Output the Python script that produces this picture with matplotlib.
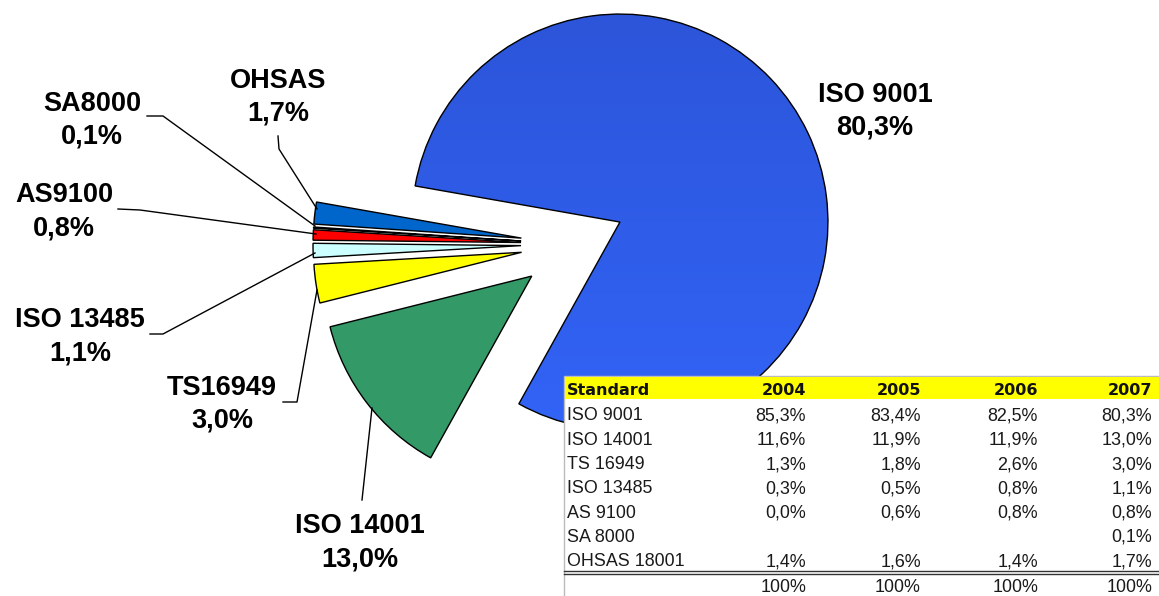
import matplotlib
matplotlib.use("Agg")
import matplotlib.pyplot as plt
import numpy as np
from matplotlib.colors import LinearSegmentedColormap

# ---------------- data ----------------
table_standards = ["ISO 9001", "ISO 14001", "TS 16949", "ISO 13485", "AS 9100", "SA 8000", "OHSAS 18001"]
years = ["2004", "2005", "2006", "2007"]
share_2004 = [85.3, 11.6, 1.3, 0.3, 0.0, None, 1.4]
share_2005 = [83.4, 11.9, 1.8, 0.5, 0.6, None, 1.6]
share_2006 = [82.5, 11.9, 2.6, 0.8, 0.8, None, 1.4]
share_2007 = [80.3, 13.0, 3.0, 1.1, 0.8, 0.1, 1.7]
totals = ["100%", "100%", "100%", "100%"]
pie_labels = ["ISO 9001", "ISO 14001", "TS16949", "ISO 13485", "AS9100", "SA8000", "OHSAS"]
pie_colors = ["#3366FF", "#339966", "#FFFF00", "#CCFFFF", "#FF0000", "#FFFFFF", "#0066CC"]

W, H = 1159, 596
fig = plt.figure(figsize=(W / 100, H / 100), dpi=100)
ax = fig.add_axes([0, 0, 1, 1])


def Y(y):
    return H - y


def fmt(v):
    return "" if v is None else f"{v:.1f}%".replace(".", ",")


def txt(x, yc, s, size, ha="center", weight="normal", family="Liberation Sans", color="black", z=10):
    # place text so that its capital letters are vertically centred on yc (image px)
    cap = 0.716 * size * 100 / 72
    ax.text(x, Y(yc + cap / 2), s, fontsize=size, ha=ha, va="baseline",
            fontweight=weight, family=family, color=color, zorder=z)


# ---------------- pie ----------------
R = 208
cx, cy = 573, 244.4
explode = [0.25 * R] * len(share_2007)  # matplotlib explode is in data units
wedges, _ = ax.pie(share_2007, colors=pie_colors, explode=explode,
                   startangle=170, counterclock=False, radius=R, center=(cx, Y(cy)),
                   wedgeprops=dict(edgecolor="black", linewidth=1.0), frame=False)

# gradient fill for the big slice
w0 = wedges[0]
w0.set_facecolor("none")
w0.set_zorder(3)
cmap = LinearSegmentedColormap.from_list("g", ["#3468FF", "#2B52D4"])
grad = np.linspace(0, 1, 256).reshape(-1, 1)
im = ax.imshow(grad, cmap=cmap, extent=[cx - R - 100, cx + R + 100, Y(cy) - R - 100, Y(cy) + R + 100],
               origin="lower", aspect="auto", zorder=2)
im.set_clip_path(w0)

ax.set_xlim(0, W)
ax.set_ylim(0, H)
ax.axis("off")

# ---------------- labels & leader lines ----------------
lab_size = 19.5
label_pos = {
    "ISO 9001": (875, 92, 125),
    "OHSAS": (278, 78, 111),
    "SA8000": (92, 101, 134),
    "AS9100": (64, 192, 226),
    "ISO 13485": (80, 317, 351),
    "TS16949": (222, 385, 418),
    "ISO 14001": (360, 523, 557),
}
for name, v in zip(pie_labels, share_2007):
    x, y1, y2 = label_pos[name]
    txt(x, y1, name, lab_size, weight="bold")
    txt(x, y2, fmt(v), lab_size, weight="bold")

leaders = [
    [(278, 136), (279, 149), (317, 209)],
    [(147, 116), (163, 116), (315, 226)],
    [(118, 209), (140, 210), (316, 234)],
    [(150, 334), (163, 334), (315, 253)],
    [(283, 402), (297, 402), (317, 290)],
    [(362, 500), (372, 408)],
]
for pts in leaders:
    xs = [p[0] for p in pts]
    ys = [Y(p[1]) for p in pts]
    ax.plot(xs, ys, color="black", lw=1.0, zorder=5)

# ---------------- table ----------------
tx0, ty0 = 564, 376
ax.add_patch(plt.Rectangle((tx0, -5), W - tx0 + 5, Y(ty0) + 5, facecolor="white",
                           edgecolor="#BBBBBB", lw=1.0, zorder=8))
ax.add_patch(plt.Rectangle((tx0 + 1, Y(399)), W - tx0, 22, facecolor="#FFFF00",
                           edgecolor="none", zorder=8.5))

col_right = [806, 921, 1038, 1152]
hdr_y = 389
txt(567, hdr_y, "Standard", 11.5, ha="left", weight="bold", family="DejaVu Sans", color="#111111")
for xr, yr in zip(col_right, years):
    txt(xr, hdr_y, yr, 11.5, ha="right", weight="bold", family="DejaVu Sans", color="#111111")

row_y0, pitch = 414, 24.3
tsize = 12.9
cols = [share_2004, share_2005, share_2006, share_2007]
for i, std in enumerate(table_standards):
    yc = row_y0 + i * pitch
    txt(567, yc, std, tsize, ha="left", color="#1A1A1A")
    for xr, col in zip(col_right, cols):
        txt(xr, yc, fmt(col[i]), tsize, ha="right", color="#1A1A1A")

for yl in (571, 574):
    ax.plot([tx0, W], [Y(yl), Y(yl)], color="#333333", lw=1.0, zorder=9)
for xr, t in zip(col_right, totals):
    txt(xr, 585.5, t, tsize, ha="right", color="#1A1A1A")

fig.savefig("out.png", dpi=100)
